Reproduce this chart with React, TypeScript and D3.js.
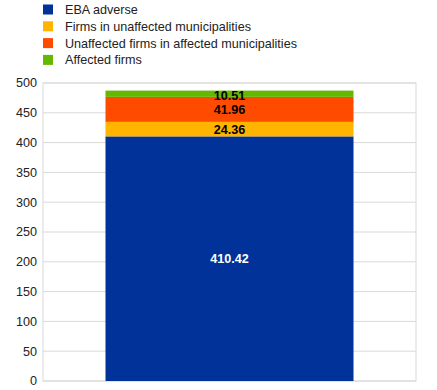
import React, { useEffect, useRef } from 'react';
import * as d3 from 'd3';

const categories = ['total'];
const seriesNames = [
  'EBA adverse',
  'Firms in unaffected municipalities',
  'Unaffected firms in affected municipalities',
  'Affected firms',
];
const seriesValues = [410.42, 24.36, 41.96, 10.51];
const seriesColors = ['#003299', '#ffb400', '#ff4b00', '#65b800'];
const labelColors = ['#ffffff', '#000000', '#000000', '#000000'];
const yTicks = [0, 50, 100, 150, 200, 250, 300, 350, 400, 450, 500];

function App() {
  const svgRef = useRef<SVGSVGElement>(null);

  useEffect(() => {
    const svg = d3.select(svgRef.current);
    svg.selectAll('*').remove();

    const margin = { top: 83, right: 21, bottom: 9, left: 43 };
    const W = 437, H = 390;
    const width = W - margin.left - margin.right;
    const height = H - margin.top - margin.bottom;
    const font = 'Liberation Sans, Arial, sans-serif';
    const fs = 12.6;

    const g = svg.append('g').attr('transform', `translate(${margin.left},${margin.top})`);

    const x = d3.scaleBand().domain(categories).range([0, width]).paddingInner(0).paddingOuter(0.252);
    const y = d3.scaleLinear().domain([0, 500]).range([height, 0]);

    // gridlines
    g.selectAll('.grid').data(yTicks).enter().append('line')
      .attr('x1', 0).attr('x2', width)
      .attr('y1', d => y(d)).attr('y2', d => y(d))
      .attr('stroke', '#d9d9d9').attr('stroke-width', 1);
    g.append('rect').attr('x', 0).attr('y', 0).attr('width', width).attr('height', height)
      .attr('fill', 'none').attr('stroke', '#d9d9d9');

    // stacked segments
    let base = 0;
    const segs = seriesValues.map((v, i) => {
      const s = { i, y0: base, y1: base + v, v };
      base += v;
      return s;
    });

    g.selectAll('.seg').data(segs).enter().append('rect')
      .attr('x', x('total')!)
      .attr('width', x.bandwidth())
      .attr('y', d => y(d.y1))
      .attr('height', d => y(d.y0) - y(d.y1))
      .attr('fill', d => seriesColors[d.i]);

    g.selectAll('.lbl').data(segs).enter().append('text')
      .attr('x', x('total')! + x.bandwidth() / 2)
      .attr('y', d => (d.i === 3 ? y(d.y1) + 4.5 : (y(d.y0) + y(d.y1)) / 2))
      .attr('dy', '0.35em')
      .attr('text-anchor', 'middle')
      .attr('font-family', font)
      .attr('font-size', fs)
      .attr('font-weight', 'bold')
      .attr('fill', d => labelColors[d.i])
      .text(d => d.v.toFixed(2));

    // y axis labels
    g.selectAll('.ytick').data(yTicks).enter().append('text')
      .attr('x', -6)
      .attr('y', d => y(d))
      .attr('dy', '0.35em')
      .attr('text-anchor', 'end')
      .attr('font-family', font)
      .attr('font-size', fs)
      .attr('fill', '#222')
      .text(d => d);

    // legend
    const lg = svg.append('g');
    seriesNames.forEach((name, i) => {
      const cy = 9.5 + i * 16.8;
      lg.append('rect').attr('x', 43).attr('y', cy - 5).attr('width', 10).attr('height', 10)
        .attr('fill', seriesColors[i]);
      lg.append('text').attr('x', 65).attr('y', cy).attr('dy', '0.35em')
        .attr('font-family', font).attr('font-size', fs).attr('fill', '#222')
        .text(name);
    });
  }, []);

  return (
    <svg ref={svgRef} width={437} height={390}
      style={{ position: 'absolute', left: 0, top: 0, background: '#fff' }} />
  );
}

export default App;
